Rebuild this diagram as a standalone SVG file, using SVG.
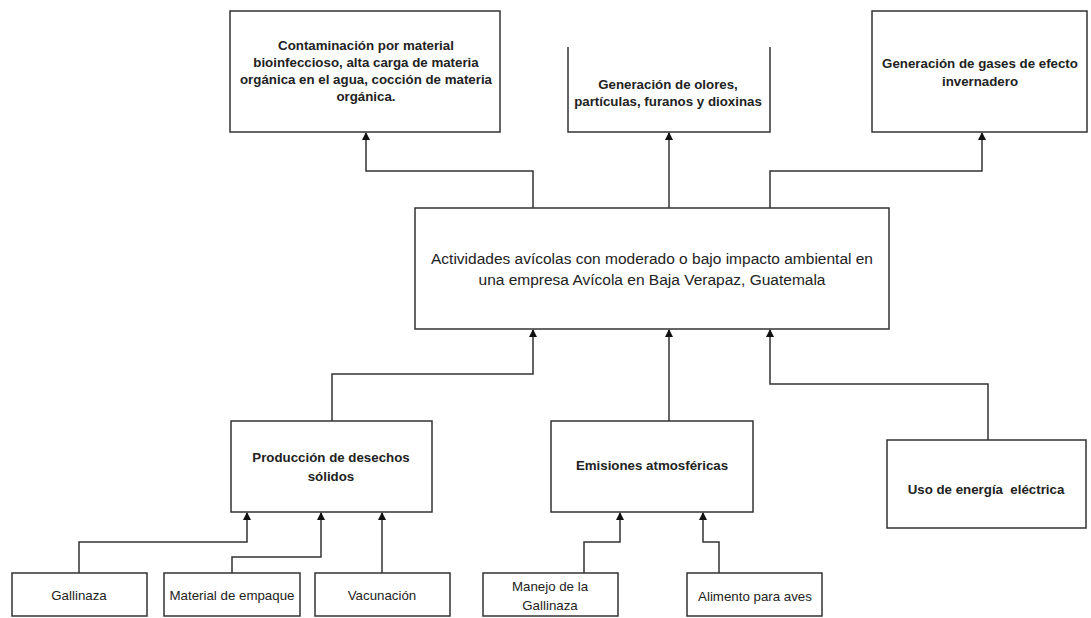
<svg xmlns="http://www.w3.org/2000/svg" width="1091" height="618" viewBox="0 0 1091 618">
<defs>
<marker id="arr" markerWidth="8" markerHeight="8" refX="7" refY="4" orient="auto" markerUnits="userSpaceOnUse">
<path d="M0,0 L8,4 L0,8 Z" fill="#111"/>
</marker>
<style>
.box{fill:#fff;stroke:#333;stroke-width:1.5}
.open{fill:none;stroke:#333;stroke-width:1.5}
.c{fill:none;stroke:#333;stroke-width:1.5;marker-end:url(#arr)}
text{font-family:"Liberation Sans",Arial,sans-serif;fill:#222;text-anchor:middle}
.b{font-size:13.3px;font-weight:bold}
.n{font-size:13.3px}
.m{font-size:15.5px}
</style>
</defs>
<rect width="1091" height="618" fill="#fff"/>
<g id="connectors">
<path class="c" d="M533,208 V171 H366 V133"/>
<path class="c" d="M669,208 V133"/>
<path class="c" d="M770,208 V171 H982 V133"/>
<path class="c" d="M332,421 V374 H533 V330"/>
<path class="c" d="M669,421 V330"/>
<path class="c" d="M988,440 V384 H770 V330"/>
<path class="c" d="M79,573 V542 H247 V513"/>
<path class="c" d="M232,573 V557 H321 V513"/>
<path class="c" d="M382,573 V513"/>
<path class="c" d="M584,573 V542 H620 V513"/>
<path class="c" d="M719,573 V542 H703 V513"/>
</g>
<g id="n-contaminacion">
<rect class="box" x="230" y="11" width="270" height="121"/>
<text class="b" x="366" y="50">Contaminación por material</text>
<text class="b" x="366" y="67">bioinfeccioso, alta carga de materia</text>
<text class="b" x="366" y="84">orgánica en el agua, cocción de materia</text>
<text class="b" x="366" y="101">orgánica.</text>
</g>
<g id="n-olores">
<path class="open" d="M568,47 V132 H770 V47"/>
<text class="b" x="668" y="89">Generación de olores,</text>
<text class="b" x="668" y="106">partículas, furanos y dioxinas</text>
</g>
<g id="n-gases">
<rect class="box" x="872" y="11" width="215" height="121"/>
<text class="b" x="980" y="68">Generación de gases de efecto</text>
<text class="b" x="980" y="86">invernadero</text>
</g>
<g id="n-central">
<rect class="box" x="415" y="208" width="474" height="121"/>
<text class="m" x="652" y="264">Actividades avícolas con moderado o bajo impacto ambiental en</text>
<text class="m" x="652" y="285">una empresa Avícola en Baja Verapaz, Guatemala</text>
</g>
<g id="n-desechos">
<rect class="box" x="231" y="421" width="201" height="91"/>
<text class="b" x="331" y="462">Producción de desechos</text>
<text class="b" x="331" y="481">sólidos</text>
</g>
<g id="n-emisiones">
<rect class="box" x="551" y="421" width="202" height="91"/>
<text class="b" x="652" y="470">Emisiones atmosféricas</text>
</g>
<g id="n-energia">
<rect class="box" x="887" y="440" width="199" height="88"/>
<text class="b" x="986" y="494" xml:space="preserve">Uso de energía  eléctrica</text>
</g>
<g id="n-gallinaza">
<rect class="box" x="12" y="573" width="135" height="43"/>
<text class="n" x="79" y="600">Gallinaza</text>
</g>
<g id="n-empaque">
<rect class="box" x="164" y="573" width="136" height="43"/>
<text class="n" x="232" y="600">Material de empaque</text>
</g>
<g id="n-vacunacion">
<rect class="box" x="315" y="573" width="135" height="43"/>
<text class="n" x="382" y="600">Vacunación</text>
</g>
<g id="n-manejo">
<rect class="box" x="483" y="573" width="135" height="43"/>
<text class="n" x="550" y="591">Manejo de la</text>
<text class="n" x="550" y="610">Gallinaza</text>
</g>
<g id="n-alimento">
<rect class="box" x="687" y="573" width="135" height="43"/>
<text class="n" x="755" y="601">Alimento para aves</text>
</g>
</svg>
